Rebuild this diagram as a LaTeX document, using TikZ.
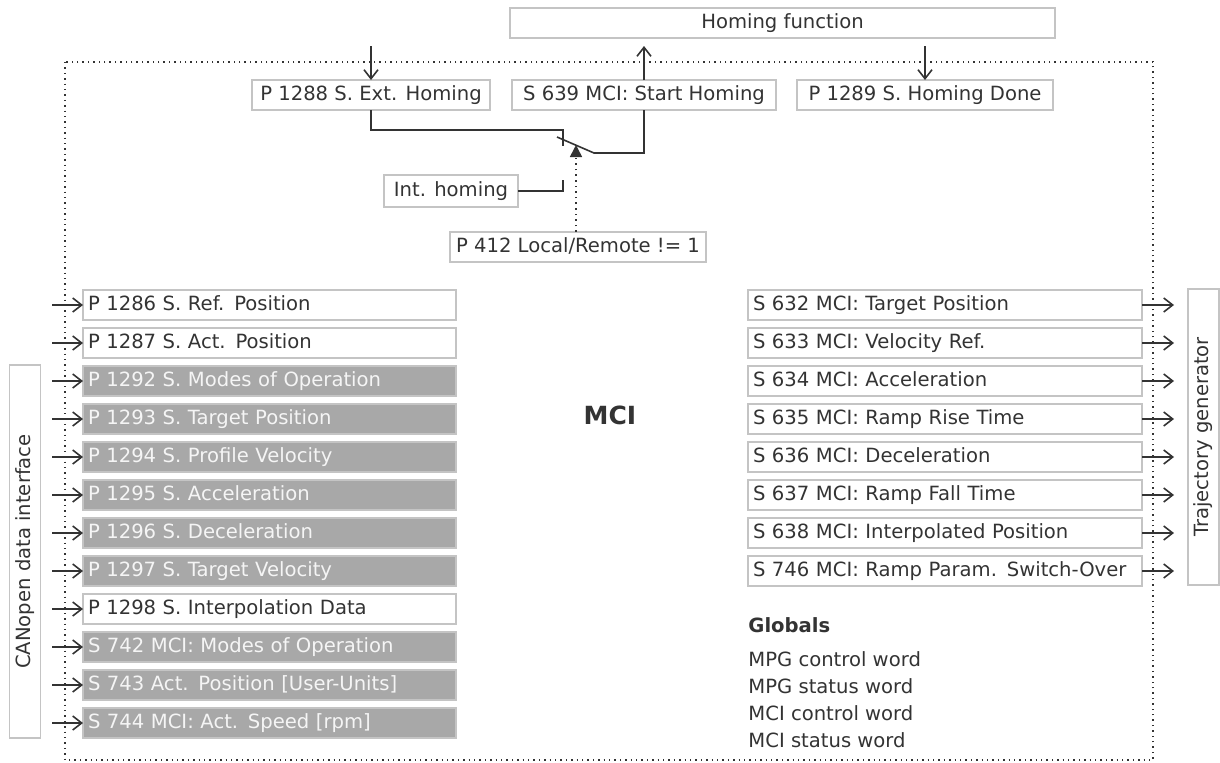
\documentclass[tikz,border=0pt]{standalone}
\usepackage{fontspec}
\setmainfont{DejaVu Sans}
\usepackage{xcolor}
\definecolor{ink}{HTML}{333333}
\definecolor{edge}{HTML}{C4C4C4}
\definecolor{shade}{HTML}{A8A8A8}
\usepackage{tikz}
\usetikzlibrary{positioning,arrows.meta,calc}

\begin{document}
\begin{tikzpicture}[x=0.5pt,y=-0.5pt,
  font=\fontsize{9.8}{11.5}\selectfont,
  >={Straight Barb[length=4.5pt,width=7pt]},
  every node/.style={text=ink},
  box/.style={draw=edge,line width=0.6pt,minimum height=15pt,outer sep=0pt,
              inner xsep=2.5pt,inner ysep=0pt,text height=7.3pt,text depth=2.2pt},
  inrow/.style={box,text width=181.5pt,align=left},
  inrowg/.style={inrow,fill=shade,text=white!96!black},
  outrow/.style={box,text width=192pt,align=left},
  side/.style={box,rotate=90,minimum height=15.5pt},
  wire/.style={draw=ink,line width=0.8pt},
  ctrl/.style={draw=ink,line width=0.8pt,dotted,-{Triangle[length=6pt,width=6pt]}},
  frame/.style={draw=ink,line width=0.7pt,dotted},
]
\useasboundingbox (0,0) rectangle (1220,762);

% --- MCI block frame
\draw[frame] (65,62) rectangle (1153,760);
\node[font=\fontsize{12.5}{14}\selectfont\bfseries] (mci) at (610,415) {MCI};

% --- homing function on top
\node[box,minimum width=272.5pt] (homing) at (782.5,23) {Homing function};
\node[box,minimum width=119pt] (p1288) at (371,95) {P 1288 S. Ext. Homing};
\node[box,minimum width=132pt,right=11pt of p1288] (s639) {S 639 MCI: Start Homing};
\node[box,minimum width=128pt,right=10.5pt of s639] (p1289) {P 1289 S. Homing Done};
\node[box,minimum width=67pt,minimum height=16pt] (inthom) at (451,191) {Int. homing};
\node[box,minimum width=128pt] (p412) at (578,247) {P 412 Local/Remote != 1};

% --- switch
\coordinate (hf) at (0,46);
\coordinate (ctop) at (563,130);
\coordinate (cbot) at (563,180);
\coordinate (blade) at (557,137);
\coordinate (pivot) at (594,153);
\coordinate (tip) at (576,145);

\draw[wire,->] (p1288 |- hf) -- (p1288);
\draw[wire,->] (s639) -- (s639 |- hf);
\draw[wire,->] (p1289 |- hf) -- (p1289);
\draw[wire] (p1288.south) |- (ctop) -- ++(0,16);
\draw[wire] (inthom.east) -| (cbot);
\draw[wire] (blade) -- (pivot) -| (s639.south);
\draw[ctrl] (tip |- p412.north) -- (tip);

% --- CANopen inputs (left column)
\node[inrow,anchor=north west] (l1) at (83,290) {P 1286 S. Ref. Position};
\node[inrow,below=4pt of l1] (l2) {P 1287 S. Act. Position};
\node[inrowg,below=4pt of l2] (l3) {P 1292 S. Modes of Operation};
\node[inrowg,below=4pt of l3] (l4) {P 1293 S. Target Position};
\node[inrowg,below=4pt of l4] (l5) {P 1294 S. Profile Velocity};
\node[inrowg,below=4pt of l5] (l6) {P 1295 S. Acceleration};
\node[inrowg,below=4pt of l6] (l7) {P 1296 S. Deceleration};
\node[inrowg,below=4pt of l7] (l8) {P 1297 S. Target Velocity};
\node[inrow,below=4pt of l8] (l9) {P 1298 S. Interpolation Data};
\node[inrowg,below=4pt of l9] (l10) {S 742 MCI: Modes of Operation};
\node[inrowg,below=4pt of l10] (l11) {S 743 Act. Position [User-Units]};
\node[inrowg,below=4pt of l11] (l12) {S 744 MCI: Act. Speed [rpm]};

\node[side,minimum width=186.5pt] (canopen) at (25,551.5) {CANopen data interface};

% --- trajectory outputs (right column)
\node[outrow,anchor=north west] (r1) at (748,290) {S 632 MCI: Target Position};
\node[outrow,below=4pt of r1] (r2) {S 633 MCI: Velocity Ref.};
\node[outrow,below=4pt of r2] (r3) {S 634 MCI: Acceleration};
\node[outrow,below=4pt of r3] (r4) {S 635 MCI: Ramp Rise Time};
\node[outrow,below=4pt of r4] (r5) {S 636 MCI: Deceleration};
\node[outrow,below=4pt of r5] (r6) {S 637 MCI: Ramp Fall Time};
\node[outrow,below=4pt of r6] (r7) {S 638 MCI: Interpolated Position};
\node[outrow,below=4pt of r7] (r8) {S 746 MCI: Ramp Param. Switch-Over};

\node[side,minimum width=148pt] (trajgen) at (1203.5,437) {Trajectory generator};

% --- globals
\node[anchor=west,inner sep=0pt] (glob) at (748,625) {\bfseries Globals};
\node[inner sep=0pt,align=left,font=\fontsize{9.8}{13.5}\selectfont,
      below=9pt of glob.south west,anchor=north west]
     (words) {MPG control word\\MPG status word\\MCI control word\\MCI status word};

% --- arrows
\coordinate (inL) at (52,0);
\coordinate (outR) at (1174,0);
\draw[wire,->] (inL |- l1) -- (l1);
\draw[wire,->] (inL |- l2) -- (l2);
\draw[wire,->] (inL |- l3) -- (l3);
\draw[wire,->] (inL |- l4) -- (l4);
\draw[wire,->] (inL |- l5) -- (l5);
\draw[wire,->] (inL |- l6) -- (l6);
\draw[wire,->] (inL |- l7) -- (l7);
\draw[wire,->] (inL |- l8) -- (l8);
\draw[wire,->] (inL |- l9) -- (l9);
\draw[wire,->] (inL |- l10) -- (l10);
\draw[wire,->] (inL |- l11) -- (l11);
\draw[wire,->] (inL |- l12) -- (l12);
\draw[wire,->] (r1) -- (r1 -| outR);
\draw[wire,->] (r2) -- (r2 -| outR);
\draw[wire,->] (r3) -- (r3 -| outR);
\draw[wire,->] (r4) -- (r4 -| outR);
\draw[wire,->] (r5) -- (r5 -| outR);
\draw[wire,->] (r6) -- (r6 -| outR);
\draw[wire,->] (r7) -- (r7 -| outR);
\draw[wire,->] (r8) -- (r8 -| outR);

\end{tikzpicture}
\end{document}
